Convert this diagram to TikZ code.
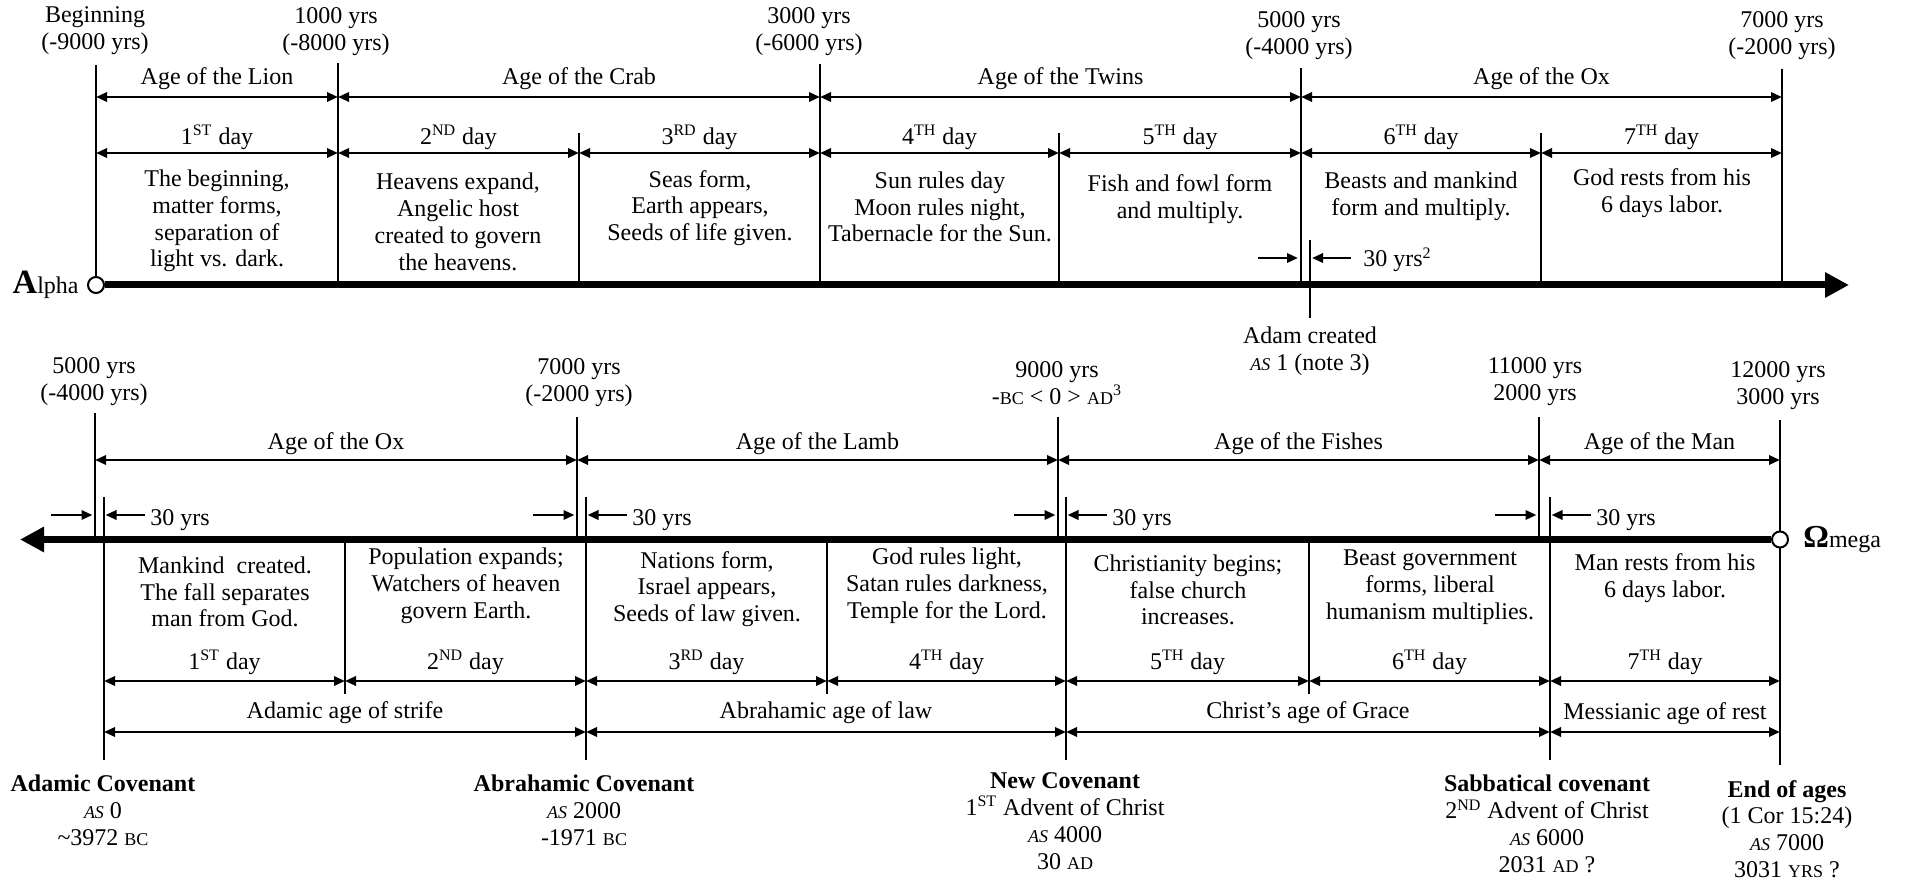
\documentclass[tikz,border=0pt]{standalone}
\usepackage{fontspec}
\setmainfont{Liberation Serif}
\usetikzlibrary{arrows.meta,positioning,calc}
\newcommand{\smallcap}[1]{{\fontsize{9}{10}\selectfont #1}}
\newcommand{\italcap}[1]{{\itshape\fontsize{9}{10}\selectfont #1}}
\newcommand{\dayth}[2]{#1\textsuperscript{#2} day}
\begin{document}
\begin{tikzpicture}
[x=0.5pt,y=-0.5pt,font=\fontsize{12}{13.4}\selectfont,
  tickdecorate/.style={line width=1pt},
  axisdecorate/.style={line width=3.5pt,-{Triangle[length=12pt,width=12pt]}},
  dimdecorate/.style={line width=1.3pt,{Triangle[length=5.5pt,width=4.6pt]}-{Triangle[length=5.5pt,width=4.6pt]}},
  gapdecorate/.style={line width=1.3pt,-{Triangle[length=5.5pt,width=4.6pt]}},
  labeldecorate/.style={inner sep=0pt,above=#1},
  labeldecorate/.default=2.5pt,
  nodedecorate/.style={shape=circle,draw,line width=1pt,fill=white,minimum size=8pt,inner sep=0pt},
  textdecorate/.style={align=center,inner sep=0pt}]
\useasboundingbox (0,0) rectangle (1906,882);
%% upper line: ticks and years
\foreach \nodename/\x/\top in {
  a0/96/65, a1/338/63, a2/579/133, a3/820/64,
  a4/1059/133, a5/1301/68, a6/1541/133, a7/1782/69} {
  \coordinate (\nodename) at (\x,285);
  \draw[tickdecorate] (\nodename) -- (\x,\top);
}
\foreach \nodename/\x/\y/\text in {
  a0/95/31/{Beginning\\(-9000 yrs)}, a1/336/32/{1000 yrs\\(-8000 yrs)},
  a3/809/32/{3000 yrs\\(-6000 yrs)}, a5/1299/36/{5000 yrs\\(-4000 yrs)},
  a7/1782/36/{7000 yrs\\(-2000 yrs)}} {
  \node[textdecorate] (year\nodename) at (\x,\y) {\text};
}
\node (alpha) at (a0) [nodedecorate] {};
\node [left=4pt of alpha,inner sep=0pt] (alphaname) {{\bfseries\fontsize{17}{17}\selectfont A}lpha};
\coordinate (alphaend) at (1849,285);
\draw[axisdecorate] (alpha.east) -- (alphaend);
%% ages and days
\path
\foreach \startnode/\endnode/\text in {
  a0/a1/Age of the Lion, a1/a3/Age of the Crab,
  a3/a5/Age of the Twins, a5/a7/Age of the Ox} {
  (\startnode |- 0,97) edge[dimdecorate] node[labeldecorate=3pt] (age\startnode) {\text} (\endnode |- 0,97)
}
\foreach \startnode/\endnode/\text in {
  a0/a1/{\dayth{1}{ST}}, a1/a2/{\dayth{2}{ND}}, a2/a3/{\dayth{3}{RD}},
  a3/a4/{\dayth{4}{TH}}, a4/a5/{\dayth{5}{TH}}, a5/a6/{\dayth{6}{TH}},
  a6/a7/{\dayth{7}{TH}}} {
  (\startnode |- 0,153) edge[dimdecorate] node[labeldecorate=1pt] (day\startnode) {\text} (\endnode |- 0,153)
};
\foreach \nodename/\x/\y/\text in {
  a0/217/221/{The beginning,\\matter forms,\\separation of\\light vs. dark.},
  a1/458/222/{Heavens expand,\\Angelic host\\created to govern\\the heavens.},
  a2/700/208/{Seas form,\\Earth appears,\\Seeds of life given.},
  a3/940/207/{Sun rules day\\Moon rules night,\\Tabernacle for the Sun.},
  a4/1180/199/{Fish and fowl form\\and multiply.},
  a5/1421/196/{Beasts and mankind\\form and multiply.},
  a6/1662/193/{God rests from his\\6 days labor.}} {
  \node[textdecorate] (text\nodename) at (\x,\y) {\text};
}
%% Adam, 30 years after
\coordinate (adamtop) at (1310,240);
\coordinate (adambot) at (1310,318);
\draw[tickdecorate] (adamtop) -- (adambot);
\coordinate (gapa) at (a5 |- 0,258);
\coordinate (gapadam) at (adamtop |- 0,258);
\draw[gapdecorate] ($(gapa)+(-43,0)$) -- ($(gapa)+(-3,0)$);
\draw[gapdecorate] ($(gapadam)+(41,0)$) -- ($(gapadam)+(2,0)$);
\node[anchor=base west,inner sep=0pt] (yrsadam) at ($(gapadam)+(53,9)$) {30 yrs\textsuperscript{2}};
\node[textdecorate] (adam) at (1310,351) {Adam created\\\italcap{AS} 1 (note 3)};
%% lower line: ticks and years
\foreach \nodename/\x/\top in {b0/95/413, b1/577/417, b2/1058/417, b3/1539/417} {
  \coordinate (\nodename) at (\x,539.5);
  \draw[tickdecorate] (\nodename) -- (\x,\top);
}
\coordinate (b4) at (1780,539.5);
\draw[tickdecorate] (1780,420) -- (1780,765);
\foreach \nodename/\x in {c0/104, c1/586, c2/1066, c3/1550} {
  \coordinate (\nodename) at (\x,539.5);
  \draw[tickdecorate] (\x,497) -- (\x,760);
}
\foreach \nodename/\x in {d1/345, d3/827, d5/1309} {
  \coordinate (\nodename) at (\x,539.5);
  \draw[tickdecorate] (\nodename) -- (\x,694);
}
\foreach \nodename/\x/\y/\text in {
  b0/94/382/{5000 yrs\\(-4000 yrs)}, b1/579/383/{7000 yrs\\(-2000 yrs)},
  b2/1057/383/{9000 yrs\\-\smallcap{BC} < 0 > \smallcap{AD}\textsuperscript{3}},
  b3/1535/382/{11000 yrs\\2000 yrs}, b4/1778/386/{12000 yrs\\3000 yrs}} {
  \node[textdecorate] (year\nodename) at (\x,\y) {\text};
}
\node (omega) at (b4) [nodedecorate] {};
\node [right=7pt of omega,inner sep=0pt] (omeganame) {{\bfseries\fontsize{16}{16}\selectfont Ω}mega};
\coordinate (omegaend) at (20,539.5);
\draw[axisdecorate] (omega.west) -- (omegaend);
%% 30 years gaps
\foreach \ticknode/\gapnode in {b0/c0, b1/c1, b2/c2, b3/c3} {
  \coordinate (g\ticknode) at (\ticknode |- 0,515);
  \coordinate (g\gapnode) at (\gapnode |- 0,515);
  \draw[gapdecorate] ($(g\ticknode)+(-44,0)$) -- ($(g\ticknode)+(-2.5,0)$);
  \draw[gapdecorate] ($(g\gapnode)+(41,0)$) -- ($(g\gapnode)+(1.5,0)$);
  \node[anchor=base west,inner sep=0pt] (yrs\gapnode) at ($(g\gapnode)+(46,10)$) {30 yrs};
}
%% ages, days and covenants
\path
\foreach \startnode/\endnode/\text in {
  b0/b1/Age of the Ox, b1/b2/Age of the Lamb,
  b2/b3/Age of the Fishes, b3/b4/Age of the Man} {
  (\startnode |- 0,460) edge[dimdecorate] node[labeldecorate=2pt] (age\startnode) {\text} (\endnode |- 0,460)
}
\foreach \startnode/\endnode/\text in {
  c0/d1/{\dayth{1}{ST}}, d1/c1/{\dayth{2}{ND}}, c1/d3/{\dayth{3}{RD}},
  d3/c2/{\dayth{4}{TH}}, c2/d5/{\dayth{5}{TH}}, d5/c3/{\dayth{6}{TH}},
  c3/b4/{\dayth{7}{TH}}} {
  (\startnode |- 0,681) edge[dimdecorate] node[labeldecorate=2.5pt] (day\startnode) {\text} (\endnode |- 0,681)
}
\foreach \startnode/\endnode/\gap/\text in {
  c0/c1/3.7pt/Adamic age of strife, c1/c2/3.7pt/Abrahamic age of law,
  c2/c3/3.7pt/Christ’s age of Grace, c3/b4/3pt/Messianic age of rest} {
  (\startnode |- 0,732) edge[dimdecorate] node[labeldecorate=\gap] (cov\startnode) {\text} (\endnode |- 0,732)
};
\foreach \nodename/\x/\y/\text in {
  c0/225/592/{Mankind\ \ created.\\The fall separates\\man from God.},
  d1/466/586/{Population expands;\\Watchers of heaven\\govern Earth.},
  c1/707/589/{Nations form,\\Israel appears,\\Seeds of law given.},
  d3/947/586/{God rules light,\\Satan rules darkness,\\Temple for the Lord.},
  c2/1188/590/{Christianity begins;\\false church\\increases.},
  d5/1430/587/{Beast government\\forms, liberal\\humanism multiplies.},
  c3/1665/578/{Man rests from his\\6 days labor.}} {
  \node[textdecorate] (text\nodename) at (\x,\y) {\text};
}
\foreach \nodename/\x/\y/\text in {
  c0/103/810/{\textbf{Adamic Covenant}\\\italcap{AS} 0\\\textasciitilde3972 \smallcap{BC}},
  c1/584/810/{\textbf{Abrahamic Covenant}\\\italcap{AS} 2000\\-1971 \smallcap{BC}},
  c2/1065/821/{\textbf{New Covenant}\\1\textsuperscript{ST} Advent of Christ\\\italcap{AS} 4000\\30 \smallcap{AD}},
  c3/1547/824/{\textbf{Sabbatical covenant}\\2\textsuperscript{ND} Advent of Christ\\\italcap{AS} 6000\\2031 \smallcap{AD} ?},
  b4/1787/829/{\textbf{End of ages}\\(1 Cor 15:24)\\\italcap{AS} 7000\\3031 \smallcap{YRS} ?}} {
  \node[textdecorate] (cov\nodename) at (\x,\y) {\text};
}
\end{tikzpicture}
\end{document}
